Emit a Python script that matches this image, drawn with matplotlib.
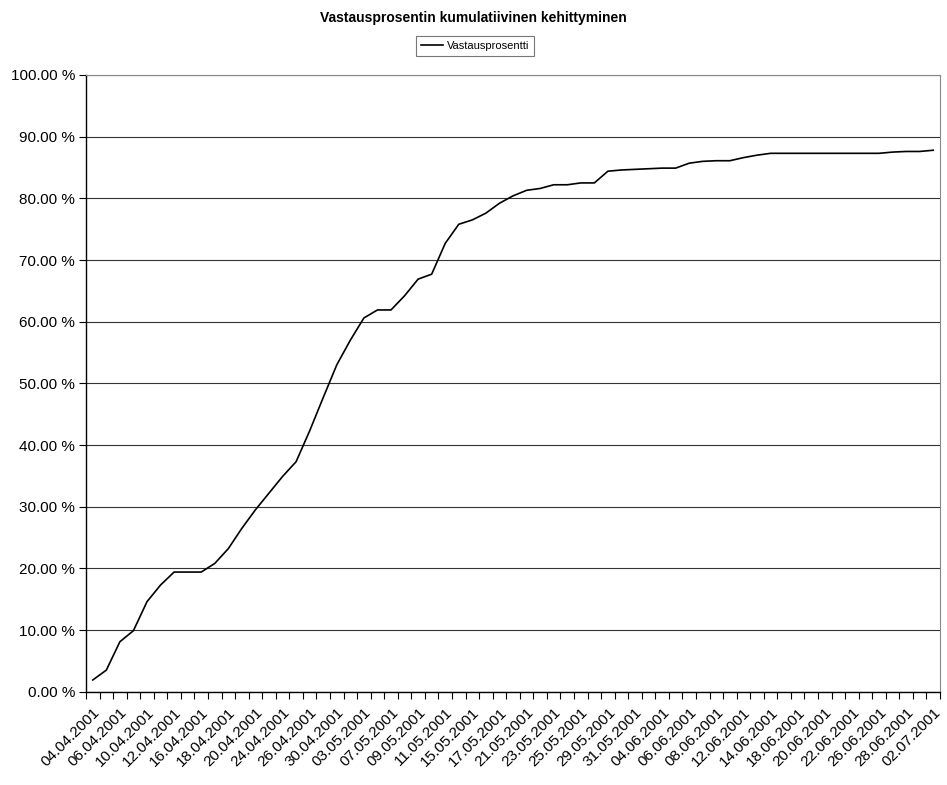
import matplotlib
matplotlib.use("Agg")
import matplotlib.pyplot as plt
from matplotlib.ticker import FixedLocator, FuncFormatter

plt.rcParams['font.family'] = ['Liberation Sans', 'DejaVu Sans']

title = "Vastausprosentin kumulatiivinen kehittyminen"
series_name = "Vastausprosentti"

dates = [
    "04.04.2001", "05.04.2001", "06.04.2001", "09.04.2001", "10.04.2001", "11.04.2001",
    "12.04.2001", "13.04.2001", "16.04.2001", "17.04.2001", "18.04.2001", "19.04.2001",
    "20.04.2001", "23.04.2001", "24.04.2001", "25.04.2001", "26.04.2001", "27.04.2001",
    "30.04.2001", "02.05.2001", "03.05.2001", "04.05.2001", "07.05.2001", "08.05.2001",
    "09.05.2001", "10.05.2001", "11.05.2001", "14.05.2001", "15.05.2001", "16.05.2001",
    "17.05.2001", "18.05.2001", "21.05.2001", "22.05.2001", "23.05.2001", "24.05.2001",
    "25.05.2001", "28.05.2001", "29.05.2001", "30.05.2001", "31.05.2001", "01.06.2001",
    "04.06.2001", "05.06.2001", "06.06.2001", "07.06.2001", "08.06.2001", "11.06.2001",
    "12.06.2001", "13.06.2001", "14.06.2001", "15.06.2001", "18.06.2001", "19.06.2001",
    "20.06.2001", "21.06.2001", "22.06.2001", "25.06.2001", "26.06.2001", "27.06.2001",
    "28.06.2001", "29.06.2001", "02.07.2001",
]

values = [
    1.9, 3.5, 8.1, 9.9, 14.6, 17.3, 19.4, 19.4, 19.4, 20.8,
    23.2, 26.5, 29.5, 32.2, 34.9, 37.3, 42.3, 47.7, 53.0, 57.0,
    60.6, 61.9, 61.9, 64.2, 66.9, 67.7, 72.7, 75.8, 76.5, 77.6,
    79.2, 80.4, 81.3, 81.6, 82.2, 82.2, 82.5, 82.5, 84.4, 84.6,
    84.7, 84.8, 84.9, 84.9, 85.7, 86.0, 86.1, 86.1, 86.6, 87.0,
    87.3, 87.3, 87.3, 87.3, 87.3, 87.3, 87.3, 87.3, 87.3, 87.5,
    87.6, 87.6, 87.8,
]

y_ticks = [0, 10, 20, 30, 40, 50, 60, 70, 80, 90, 100]
label_step = 2

fig = plt.figure(figsize=(9.47, 7.85), dpi=100)
ax = fig.add_axes([86 / 947, 1 - 691.7 / 785, (940 - 86) / 947, (691.7 - 75) / 785])

x = list(range(len(values)))
line, = ax.plot(x, values, color='black', linewidth=1.2, label=series_name)

ax.set_xlim(-0.5, len(values) - 0.5)
ax.set_ylim(0, 100)

ax.set_yticks(y_ticks)
ax.yaxis.set_major_formatter(FuncFormatter(lambda v, p: f"{v:.2f} %"))
ax.tick_params(axis='y', direction='out', length=5, width=0.8, labelsize=11, pad=3)

ax.grid(axis='y', color='#333333', linewidth=0.8)
ax.set_axisbelow(True)

label_pos = x[::label_step]
ax.xaxis.set_major_locator(FixedLocator(label_pos))
ax.set_xticklabels(dates[::label_step], rotation=45, ha='right',
                   rotation_mode='anchor', fontsize=11)
ax.xaxis.set_minor_locator(FixedLocator([i - 0.5 for i in range(len(values) + 1)]))
ax.tick_params(axis='x', which='major', length=0, pad=10)
ax.tick_params(axis='x', which='minor', direction='out', length=5, width=0.8)

for s in ['left', 'bottom']:
    ax.spines[s].set_color('black')
    ax.spines[s].set_linewidth(1.0)
for s in ['top', 'right']:
    ax.spines[s].set_color('#888888')
    ax.spines[s].set_linewidth(0.8)
    ax.spines[s].set_linestyle((0, (1, 1)))

fig.text(0.5, 1 - 18 / 785, title, ha='center', va='center', fontsize=10, fontweight='bold')

leg = fig.legend(handles=[line], loc='center', bbox_to_anchor=(475 / 947, 1 - 46 / 785),
                 fontsize=8, frameon=True, fancybox=False, handlelength=2.0,
                 handletextpad=0.3, borderpad=0.45)
leg.get_frame().set_edgecolor('#555555')
leg.get_frame().set_linewidth(0.8)

fig.savefig("out.png", dpi=100)
